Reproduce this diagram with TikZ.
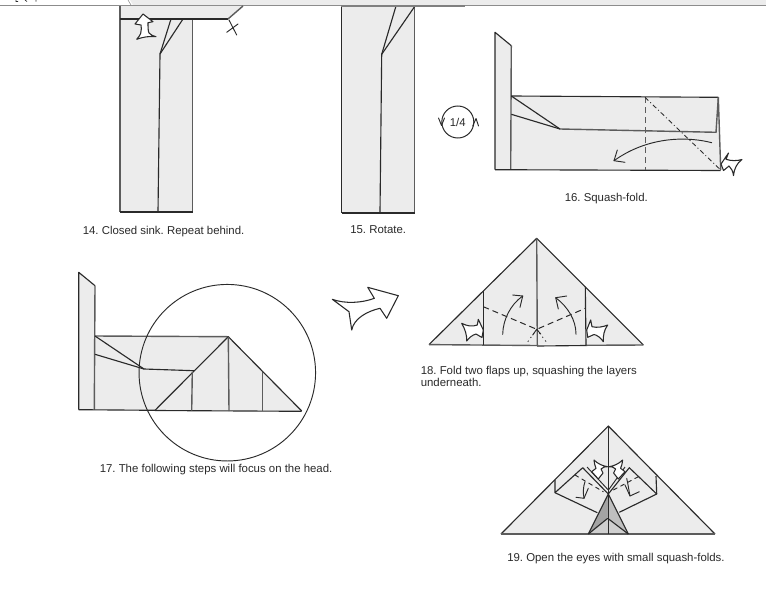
\documentclass[tikz,border=0pt]{standalone}
\usepackage{fontspec}
\setmainfont{Liberation Sans}
\frenchspacing
\definecolor{paper}{HTML}{ECECEC}
\definecolor{ink}{HTML}{2A2A2A}
\definecolor{edge}{HTML}{5C5C5C}
\tikzset{
  folded/.style={fill=paper,draw=none},
  crease/.style={draw=ink,line width=0.85pt,line join=round},
  soft/.style={draw=edge,line width=1.05pt},
  valley/.style={draw=ink,line width=0.75pt,dash pattern=on 4.5pt off 3pt},
  ridge/.style={draw=ink,line width=0.65pt,dash pattern=on 3.5pt off 2pt on 0.7pt off 2pt},
  hint/.style={draw=ink,line width=0.7pt,line cap=round,line join=round},
  pusharrow/.style={draw=ink,fill=white,line width=0.8pt,line join=round},
  caption/.style={anchor=west,text=ink,font=\fontsize{8.55pt}{9pt}\selectfont,inner sep=0pt}
}
\begin{document}
\begin{tikzpicture}[x=0.75pt,y=-0.75pt]
\useasboundingbox (0,0) rectangle (766,589);
\fill[white] (0,0) rectangle (766,589);
% top band of the page
\fill[paper] (130,0) -- (766,0) -- (766,5) -- (133,5) -- cycle;
\draw[draw=black!45,line width=0.7pt] (0,5.3) -- (766,5.3);
\draw[draw=black!45,line width=0.4pt] (128,0) -- (131,5);
\draw[draw=ink,line width=0.5pt] (16,0) -- (16,1.5) -- (18,1.5) (25,0) -- (27,1.5) (36,0) -- (36,1.5);

% step 14
\fill[folded] (120,6) -- (243,6) -- (228,19) -- (192.5,19) -- (192.5,212) -- (120,212) -- cycle;
\draw[soft] (120,6) -- (120,212);
\draw[soft] (192.5,19) -- (192.5,212);
\draw[crease] (120,19) -- (228,19);
\draw[soft] (228,19) -- (243,6);
\draw[crease] (120,212) -- (192.5,212);
\draw[crease] (171,19) -- (160,54) -- (158,212);
\draw[crease] (183,19) -- (160,54);
\draw[pusharrow] (143,14) -- (153,21.7) -- (148,22.7) .. controls (148,27) and (148,31) .. (149,33) .. controls (151,35) and (153,36) .. (156,36.7) .. controls (149,36) and (143,37) .. (136.7,39.3) .. controls (139,37) and (140,35) .. (140.7,33.3) .. controls (141.5,30) and (141.5,27) .. (141,25) -- (135,24) -- cycle;
\draw[hint] (226.7,32.3) -- (238,24) (229,20) -- (236.7,35);

% step 15
\fill[folded] (341.5,6) -- (414.5,6) -- (414.5,213) -- (341.5,213) -- cycle;
\draw[crease] (341.5,6) -- (341.5,213);
\draw[soft] (414.5,6) -- (414.5,213);
\draw[crease] (341.5,213) -- (414.5,213);
\draw[crease] (396,6) -- (381.7,54.3) -- (380,212);
\draw[crease] (415,6) -- (381.7,54.3);
\draw[draw=black!50,line width=0.8pt] (341,6) -- (465,6);

% rotate symbol
\node[draw=ink,circle,line width=0.75pt,minimum size=24pt,inner sep=0pt,text=ink,font=\fontsize{8.5pt}{9pt}\selectfont] (rotate) at (457.8,122) {1/4};
\draw[hint] (438.5,118) -- (441.5,125.5) -- (444.5,118);
\draw[hint] (472.7,126) -- (476,118.5) -- (478.5,126);

% step 16
\fill[folded] (495,32.3) -- (511.3,45.7) -- (511.3,96) -- (718.3,97.3) -- (720.7,170) -- (495,169.7) -- cycle;
\draw[crease] (495,169.7) -- (495,32.3) -- (511.3,45.7);
\draw[soft] (511.3,45.7) -- (510.7,169.7);
\draw[crease] (495,169.7) -- (720.7,170.5);
\draw[crease] (511.3,96) -- (718.3,97.3);
\draw[crease] (511.3,96) -- (560,129);
\draw[crease] (511.3,114.3) -- (560,129);
\draw[soft] (560,129) -- (716.7,132.3);
\draw[soft] (718.3,97.3) -- (716,132.3);
\draw[soft] (718.3,97.3) -- (720.7,170);
\draw[valley,draw=edge] (645,97.3) -- (645,170);
\draw[ridge] (645,97.3) -- (720.7,170);
\draw[hint] (711.7,142.7) .. controls (690,137) and (650,135) .. (614,160.7);
\draw[hint] (617.3,150) -- (614,160.7) -- (625,162.3);
\draw[pusharrow] (721,164) -- (728.5,153) -- (726,159.3) .. controls (731,161) and (737,161) .. (742,159.5) .. controls (737,163) and (734,169) .. (733.5,175.5) .. controls (733,171) and (731,168) .. (729,166) -- (723.5,170.5) -- cycle;

% step 17
\fill[folded] (78.7,272.3) -- (95,285.7) -- (95,336) -- (228.3,336.7) -- (301.7,411) -- (78.7,409.7) -- cycle;
\draw[crease] (78.7,409.7) -- (78.7,272.3) -- (95,285.7);
\draw[soft] (95,285.7) -- (94.3,409.7);
\draw[crease] (78.7,409.7) -- (155,410.3);
\draw[crease] (155,410.5) -- (301.7,411.3);
\draw[soft] (95,336) -- (228.3,336.7);
\draw[crease] (95,336) -- (144,369);
\draw[crease] (95,354.3) -- (144,369);
\draw[crease] (144,369) -- (194,370.7);
\draw[crease] (155,410.3) -- (228.3,336.7) -- (301.7,411);
\draw[soft] (192.3,371.7) -- (191.7,410.7);
\draw[soft] (228.3,336.7) -- (229,411);
\draw[soft] (262.3,371.7) -- (262.3,411);
\node[draw=ink,circle,line width=0.7pt,minimum size=132.4pt,inner sep=0pt] (focus) at (227.3,372.7) {};

% big arrow between steps
\draw[pusharrow,fill=white] (332.3,299.3) .. controls (345,304) and (362,303) .. (374.3,298.3) -- (367.7,287.3) -- (398.3,295.7) -- (386.7,318.3) -- (380,308.3) .. controls (368,311) and (354,318) .. (351.7,330) -- (349,311.7) -- cycle;

% step 18
\fill[folded] (536.7,238.3) -- (643.3,345) -- (429,344.3) -- cycle;
\draw[crease] (429,344.6) -- (536.7,238.3) -- (643.3,345);
\draw[soft] (429,344.6) -- (537,345.5);
\draw[crease] (537,346) -- (586,345.5);
\draw[soft] (586,345.3) -- (643.3,345);
\draw[soft] (536.7,238.3) -- (537.3,346);
\draw[crease] (483.3,291) -- (483.3,345);
\draw[crease] (585.3,286.7) -- (586,345.5);
\draw[valley] (483.3,306.7) -- (536.7,329.3) -- (585.3,308.3);
\draw[draw=ink,line width=0.6pt,dash pattern=on 1pt off 2.5pt] (536.7,329.3) -- (526.7,343.3);
\draw[draw=ink,line width=0.6pt,dash pattern=on 1pt off 2.5pt] (536.7,329.3) -- (547.3,343.3);
\draw[hint] (532.7,335) -- (536.7,329.3) -- (540.7,334);
\draw[hint] (502.7,334.3) .. controls (503,320) and (510,305) .. (522.7,296);
\draw[hint] (512.7,295) -- (522.7,296) -- (520,307.3);
\draw[hint] (576,334.3) .. controls (576,320) and (568,307) .. (555.7,297.7);
\draw[hint] (566.7,296) -- (555.7,297.7) -- (558.3,309);
\draw[pusharrow] (483.3,330) -- (478.3,319.3) -- (477.3,325) .. controls (472,327) and (467,326) .. (461.7,323.3) .. controls (465,329) and (467,335) .. (466.7,341) .. controls (469,338) and (472,335) .. (476,334) -- (482,337.5) -- cycle;
\draw[pusharrow] (586.7,330) -- (590.7,320) -- (592,326.7) .. controls (597,328) and (603,327) .. (607.7,325) .. controls (604,330) and (603,336) .. (603.3,341.7) .. controls (601,338) and (597,335) .. (594,334.5) -- (587.7,337.3) -- cycle;

% step 19
\fill[folded] (608.3,426) -- (715,534) -- (501,534) -- cycle;
\fill[black!36] (608.3,494) -- (607.7,518.3) -- (588.3,534) -- cycle;
\fill[black!25] (608.3,494) -- (628.3,534) -- (607.7,518.3) -- cycle;
\fill[black!19] (607.7,518.3) -- (588.3,534) -- (628.3,534) -- cycle;
\draw[crease] (501,534) -- (608.3,426) -- (715,534);
\draw[soft] (501,534) -- (715,534);
\draw[crease] (608.3,426) -- (608.3,534);
\draw[crease] (555,480) -- (555,492.7) -- (582.7,467.7) -- (608.3,494);
\draw[crease] (555,492.7) -- (597.3,512.7);
\draw[crease] (656,476) -- (656.7,494) -- (629.3,467.7) -- (608.3,494);
\draw[crease] (656.7,494) -- (619.3,512.3);
\draw[crease,line width=0.7pt] (587,467) -- (607.8,489.5);
\draw[crease,line width=0.7pt] (625,467) -- (608.8,489.5);
\draw[crease] (588.3,534) -- (608.3,494) -- (628.3,534);
\draw[crease] (588.3,534) -- (607.7,518.3) -- (628.3,534);
\draw[hint,dash pattern=on 3pt off 3pt] (575,475) -- (603.3,491.7);
\draw[hint,dash pattern=on 3pt off 3pt] (638.3,476.7) -- (613.3,490);
\draw[hint] (585,481.7) .. controls (583,487) and (583,493) .. (584,498.3);
\draw[hint] (576,497.3) -- (584,498.3) -- (588.3,488.3);
\draw[hint] (626.7,478.3) .. controls (628,484) and (629,491) .. (630,496);
\draw[hint] (639.3,491.7) -- (630,496) -- (625,485);
\draw[pusharrow] (594,460) .. controls (594.5,464) and (595,466) .. (596,468.3) -- (591.7,471.7) -- (598.3,479) -- (603,473) -- (601,469) .. controls (603,467) and (605,466.5) .. (607.5,466.7) .. controls (603,466) and (598,464) .. cycle;
\draw[pusharrow] (622.6,460) .. controls (622.1,464) and (621.6,466) .. (620.6,468.3) -- (625,471.7) -- (618.3,479) -- (613.6,473) -- (615.6,469) .. controls (613.6,467) and (611.6,466.5) .. (609.1,466.7) .. controls (613.6,466) and (618.6,464) .. cycle;

% captions
\node[caption] (c14) at (82.5,231.5) {14. Closed sink. Repeat behind.};
\node[caption] (c15) at (350,229.5) {15. Rotate.};
\node[caption] (c16) at (564.5,198.5) {16. Squash-fold.};
\node[caption] (c17) at (99.5,469.5) {17. The following steps will focus on the head.};
\node[caption,align=left,anchor=north west] (c18) at (420.5,365.5) {18. Fold two flaps up, squashing the layers\\underneath.};
\node[caption] (c19) at (507,558.5) {19. Open the eyes with small squash-folds.};
\end{tikzpicture}
\end{document}
